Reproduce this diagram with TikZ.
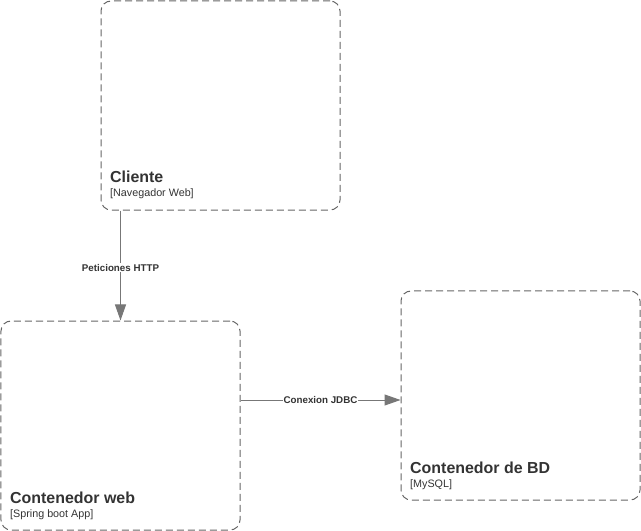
\documentclass[tikz,border=0pt]{standalone}
\usepackage{fontspec}
\setmainfont{Liberation Sans}
\usetikzlibrary{arrows.meta,calc}
\definecolor{linegray}{HTML}{777777}
\definecolor{boxgray}{HTML}{666666}
\definecolor{txt}{HTML}{333333}
\tikzset{
  cbox/.style={draw=boxgray, line width=1bp, dash pattern=on 7bp off 4bp, rounded corners=10bp, minimum width=239bp, minimum height=209bp, inner sep=0pt},
  ttl/.style={anchor=base west, inner sep=0pt, text=txt, font=\fontsize{16}{18}\selectfont\bfseries},
  sub/.style={anchor=base west, inner sep=0pt, text=txt, font=\fontsize{10.8}{12}\selectfont},
  conn/.style={draw=linegray, line width=1bp, -{Triangle[length=16bp,width=11bp]}},
  lbl/.style={fill=white, inner sep=1bp, text=txt, font=\fontsize{9.8}{11}\selectfont\bfseries}
}
\begin{document}
\begin{tikzpicture}[x=1bp,y=-1bp]
\useasboundingbox (0,0) rectangle (641,531);
\node[cbox] (cli) at (220.5,105.5) {};
\node[cbox] (web) at (120.5,425.5) {};
\node[cbox] (db) at (520.5,395.5) {};
\node[ttl] (clit) at (110,183) {Cliente};
\node[sub] (clis) at (110,197) {[Navegador Web]};
\node[ttl] (webt) at (10,503) {Contenedor web};
\node[sub] (webs) at (10,517) {[Spring boot App]};
\node[ttl] (dbt) at (410,473) {Contenedor de BD};
\node[sub] (dbs) at (410,487) {[MySQL]};
\draw[conn] (web.north |- cli.south) -- node[lbl, pos=0.52] (l1) {Peticiones HTTP} (web.north);
\draw[conn] ([yshift=25.5bp]web.east) -- node[lbl] (l2) {Conexion JDBC} ([yshift=25.5bp]web.east -| db.west);
\end{tikzpicture}
\end{document}
